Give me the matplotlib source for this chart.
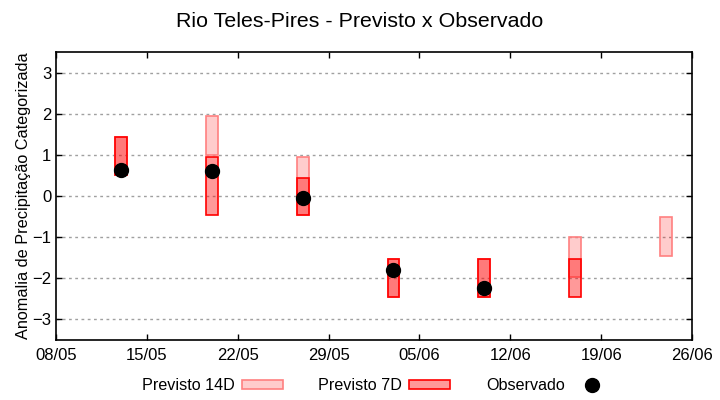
import matplotlib
matplotlib.use("Agg")
import matplotlib.pyplot as plt
import matplotlib.dates as mdates
from matplotlib.patches import Patch
from matplotlib.lines import Line2D
import datetime as dt

plt.rcParams['font.family'] = ['Liberation Sans', 'DejaVu Sans']

# forecast dates
dates = ["2023-05-13", "2023-05-20", "2023-05-27", "2023-06-03",
         "2023-06-10", "2023-06-17", "2023-06-24"]

# 14-day forecast range (low, high)
p14_low = [0.50, 0.99, -0.45, -2.45, -2.45, -1.96, -1.45]
p14_high = [1.43, 1.95, 0.94, -1.52, -1.52, -1.00, -0.52]

# 7-day forecast range (None = no forecast)
p7_low = [0.50, -0.45, -0.45, -2.45, -2.45, -2.45, None]
p7_high = [1.43, 0.94, 0.43, -1.52, -1.52, -1.52, None]

# observed anomaly
obs = [0.63, 0.61, -0.06, -1.81, -2.23, None, None]

xticks = ["2023-05-08", "2023-05-15", "2023-05-22", "2023-05-29",
          "2023-06-05", "2023-06-12", "2023-06-19", "2023-06-26"]


def to_date(s):
    return dt.datetime.strptime(s, "%Y-%m-%d")


def main():
    x = [to_date(d) for d in dates]
    fig = plt.figure(figsize=(7.2, 4), dpi=100)
    ax = fig.add_axes([0.0778, 0.15, 0.8833, 0.72])

    w = 0.92
    ax.bar(x, [h - l for l, h in zip(p14_low, p14_high)], bottom=p14_low,
           width=w, color=(1, 0, 0, 0.2), edgecolor='#ff8080', linewidth=1.2, zorder=2)

    x7 = [xi for xi, l in zip(x, p7_low) if l is not None]
    l7 = [l for l in p7_low if l is not None]
    h7 = [h for h in p7_high if h is not None]
    ax.bar(x7, [h - l for l, h in zip(l7, h7)], bottom=l7,
           width=w, color=(1, 0, 0, 0.4), edgecolor='red', linewidth=1.2, zorder=3)

    xo = [xi for xi, o in zip(x, obs) if o is not None]
    yo = [o for o in obs if o is not None]
    ax.plot(xo, yo, 'o', color='black', markersize=10, zorder=4)

    ax.set_xlim(to_date(xticks[0]), to_date(xticks[-1]))
    ax.set_ylim(-3.5, 3.5)
    ax.set_xticks([to_date(t) for t in xticks])
    ax.xaxis.set_major_formatter(mdates.DateFormatter("%d/%m"))
    ax.set_yticks(range(-3, 4))
    ax.tick_params(direction='in', top=True, right=True, length=4,
                   labelsize=12, width=1)
    ax.tick_params(axis='x', pad=6)
    ax.grid(axis='y', color='#a0a0a0', linestyle=(0, (2, 2.5)), linewidth=1)
    for s in ax.spines.values():
        s.set_linewidth(1.2)
    ax.set_ylabel("Anomalia de Precipitação Categorizada", fontsize=11.7, labelpad=1)
    fig.suptitle("Rio Teles-Pires - Previsto x Observado", fontsize=15.4, y=0.97)

    handles = [
        Patch(facecolor=(1, 0, 0, 0.2), edgecolor='#ff8080', linewidth=1.2),
        Patch(facecolor=(1, 0, 0, 0.4), edgecolor='red', linewidth=1.2),
        Line2D([], [], marker='o', color='black', linestyle='none', markersize=10),
    ]
    fig.legend(handles, ["Previsto 14D", "Previsto 7D", "Observado"],
               loc='center', bbox_to_anchor=(0.524, 0.035), ncol=3,
               frameon=False, markerfirst=False, fontsize=11.6,
               handlelength=2.55, handleheight=0.5, handletextpad=0.45,
               columnspacing=2.2)

    fig.savefig("out.png", dpi=100)


if __name__ == "__main__":
    main()
